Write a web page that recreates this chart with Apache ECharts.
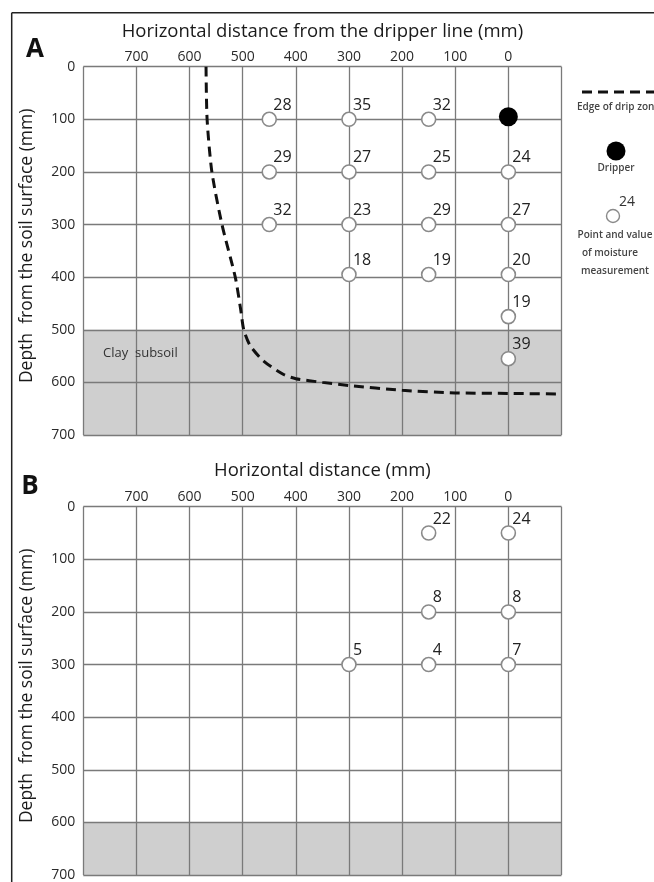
<!DOCTYPE html>
<html>
<head>
<meta charset="utf-8">
<script src="https://cdn.jsdelivr.net/npm/echarts@6/dist/echarts.min.js"></script>
<style>
html,body{margin:0;padding:0;background:#fff;}
#c{width:654px;height:882px;}
</style>
</head>
<body>
<div id="c"></div>
<script>
// ---- data ----
const xMin = -100, xMax = 800, depthMin = 0, depthMax = 700;
const clayTopA = 500, clayTopB = 600;

const panelA_x = [450, 300, 150, 450, 300, 150, 0, 450, 300, 150, 0, 300, 150, 0, 0, 0];
const panelA_depth = [100, 100, 100, 200, 200, 200, 200, 300, 300, 300, 300, 395, 395, 395, 475, 555];
const panelA_moisture = [28, 35, 32, 29, 27, 25, 24, 32, 23, 29, 27, 18, 19, 20, 19, 39];

const dripper = [0, 95];

const edgeX = [569, 567, 558, 539, 514, 504, 498, 486, 460, 423, 400, 350, 300, 200, 100, 0, -100];
const edgeDepth = [0, 100, 200, 300, 400, 460, 500, 530, 560, 585, 593, 600, 606, 615, 620, 621, 622];

const panelB_x = [150, 0, 150, 0, 300, 150, 0];
const panelB_depth = [50, 50, 200, 200, 300, 300, 300];
const panelB_moisture = [22, 24, 8, 8, 5, 4, 7];

const titleA = 'Horizontal distance from the dripper line (mm)';
const titleB = 'Horizontal distance (mm)';
const depthName = 'Depth  from the soil surface (mm)';

// ---- chart ----
const FONT = '"Open Sans", sans-serif';
const GRID_COLOR = '#7a7a7a';
const chart = echarts.init(document.getElementById('c'), null, {renderer: 'canvas'});

function xAxisDef(gridIndex, name, gap) {
  return {
    gridIndex, type: 'value', position: 'top', inverse: true,
    min: xMin, max: xMax, interval: 100, z: 3,
    name, nameLocation: 'middle', nameGap: gap,
    nameTextStyle: {fontFamily: FONT, fontSize: 18.5, color: '#1a1a1a'},
    axisLine: {show: false}, axisTick: {show: false},
    axisLabel: {margin: 3, fontFamily: FONT, fontSize: 14, color: '#2a2a2a',
      formatter: v => (v < 0 || v > 700) ? '' : String(v)},
    splitLine: {show: true, lineStyle: {color: GRID_COLOR, width: 1.3}}
  };
}
function yAxisDef(gridIndex) {
  return {
    gridIndex, type: 'value', inverse: true,
    min: depthMin, max: depthMax, interval: 100, z: 3,
    name: depthName, nameLocation: 'middle', nameGap: 47,
    nameTextStyle: {fontFamily: FONT, fontSize: 17.5, color: '#1a1a1a', padding: [0, 0, 0, 10]},
    axisLine: {show: false}, axisTick: {show: false},
    axisLabel: {margin: 8, fontFamily: FONT, fontSize: 14, color: '#2a2a2a'},
    splitLine: {show: true, lineStyle: {color: GRID_COLOR, width: 1.3}}
  };
}

function pointSeries(idx, xs, ds, vs) {
  return {
    type: 'scatter', xAxisIndex: idx, yAxisIndex: idx, z: 5,
    symbol: 'circle', symbolSize: 14,
    itemStyle: {color: '#fff', borderColor: '#8a8a8a', borderWidth: 1.6, opacity: 1},
    label: {show: true, position: 'inside', align: 'left', verticalAlign: 'middle',
      offset: [4, -14], fontFamily: FONT, fontSize: 16, color: '#222',
      formatter: p => String(p.value[2])},
    emphasis: {disabled: true},
    data: xs.map((x, i) => [x, ds[i], vs[i]])
  };
}
function claySeries(idx, top) {
  return {
    type: 'line', xAxisIndex: idx, yAxisIndex: idx, z: 1, data: [], silent: true,
    markArea: {silent: true, itemStyle: {color: '#cfcfcf'},
      data: [[{xAxis: xMax, yAxis: top}, {xAxis: xMin, yAxis: depthMax}]]}
  };
}

const option = {
  backgroundColor: '#fff',
  animation: false,
  grid: [
    {left: 83.3, top: 66.7, width: 478.2, height: 368.3},
    {left: 83.3, top: 506.7, width: 478.2, height: 371.3}
  ],
  xAxis: [xAxisDef(0, titleA, 25), xAxisDef(1, titleB, 26)],
  yAxis: [yAxisDef(0), yAxisDef(1)],
  series: [
    claySeries(0, clayTopA),
    claySeries(1, clayTopB),
    {
      type: 'line', xAxisIndex: 0, yAxisIndex: 0, z: 4, symbol: 'none', smooth: 0.25,
      lineStyle: {color: '#111', width: 3, type: [10, 6]},
      data: edgeX.map((x, i) => [x, edgeDepth[i]])
    },
    pointSeries(0, panelA_x, panelA_depth, panelA_moisture),
    {
      type: 'scatter', xAxisIndex: 0, yAxisIndex: 0, z: 6, symbol: 'circle', symbolSize: 19,
      itemStyle: {color: '#000', opacity: 1}, emphasis: {disabled: true}, data: [dripper]
    },
    pointSeries(1, panelB_x, panelB_depth, panelB_moisture)
  ],
  graphic: [
    {type: 'line', shape: {x1: 11.7, y1: 12.7, x2: 654, y2: 12.7}, style: {stroke: '#222', lineWidth: 1.5}},
    {type: 'line', shape: {x1: 11.7, y1: 12.7, x2: 11.7, y2: 882}, style: {stroke: '#222', lineWidth: 1.5}},
    {type: 'text', x: 35, y: 50, style: {text: 'A', font: 'bold 26px ' + FONT, fill: '#111', align: 'center', verticalAlign: 'middle'}},
    {type: 'text', x: 30, y: 487, style: {text: 'B', font: 'bold 26px ' + FONT, fill: '#111', align: 'center', verticalAlign: 'middle'}},
    {type: 'text', x: 103, y: 353, z: 10, style: {text: 'Clay  subsoil', font: '13px ' + FONT, fill: '#333', align: 'left', verticalAlign: 'middle'}},
    // legend
    {type: 'line', shape: {x1: 582, y1: 92, x2: 656, y2: 92}, style: {stroke: '#111', lineWidth: 3, lineDash: [10, 6]}},
    {type: 'text', x: 577, y: 107, style: {text: 'Edge of drip zone', font: '600 10px ' + FONT, fill: '#444', align: 'left', verticalAlign: 'middle'}},
    {type: 'circle', shape: {cx: 616, cy: 151, r: 9.5}, style: {fill: '#000'}},
    {type: 'text', x: 616, y: 168, style: {text: 'Dripper', font: '600 10px ' + FONT, fill: '#444', align: 'center', verticalAlign: 'middle'}},
    {type: 'text', x: 627, y: 202, style: {text: '24', font: '14px ' + FONT, fill: '#333', align: 'center', verticalAlign: 'middle'}},
    {type: 'circle', shape: {cx: 613, cy: 216, r: 6.5}, style: {fill: '#fff', stroke: '#8a8a8a', lineWidth: 1.4}},
    {type: 'text', x: 615, y: 235, style: {text: 'Point and value', font: '600 10px ' + FONT, fill: '#444', align: 'center', verticalAlign: 'middle'}},
    {type: 'text', x: 610, y: 253, style: {text: 'of moisture', font: '600 10px ' + FONT, fill: '#444', align: 'center', verticalAlign: 'middle'}},
    {type: 'text', x: 615, y: 271, style: {text: 'measurement', font: '600 10px ' + FONT, fill: '#444', align: 'center', verticalAlign: 'middle'}}
  ]
};
chart.setOption(option);
</script>
</body>
</html>
